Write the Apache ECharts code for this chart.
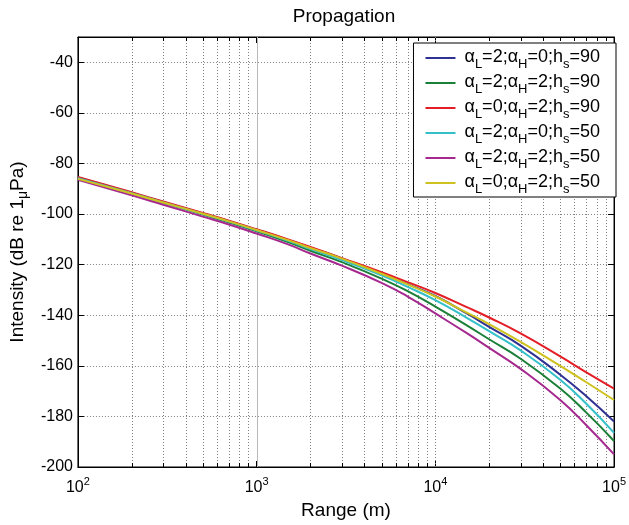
<!DOCTYPE html>
<html><head><meta charset="utf-8">
<script src="https://cdn.jsdelivr.net/npm/echarts@6/dist/echarts.min.js"></script>
<style>html,body{margin:0;padding:0;background:#fff}#c{width:629px;height:525px}</style>
</head><body><div id="c"></div>
<script>
// ---- data ----
const ranges = [100, 200, 300, 500, 700, 1000, 1500, 2000, 3000, 5000, 7000, 10000, 15000, 20000, 30000, 50000, 70000, 100000];
const alphaL = [2, 2, 0, 2, 2, 0];
const alphaH = [0, 2, 2, 0, 2, 2];
const hs = [90, 90, 90, 50, 50, 50];
const blue90 =    [-85.5, -91.6, -95.2, -99.8, -102.8, -106.2, -110.2, -113.3, -117.5, -123.5, -127.7, -132.4, -139.3, -144.6, -152.0, -163.5, -172.0, -182.0];
const green90 =   [-85.7, -91.8, -95.5, -100.2, -103.3, -106.8, -111.1, -114.5, -119.0, -125.5, -130.5, -136.6, -144.0, -149.5, -157.2, -169.0, -178.5, -189.7];
const red90 =     [-85.3, -91.4, -95.0, -99.6, -102.6, -106.0, -110.0, -113.0, -117.4, -123.0, -126.9, -131.2, -136.8, -140.9, -147.2, -156.3, -162.6, -169.0];
const cyan50 =    [-85.8, -91.8, -95.4, -100.0, -103.0, -106.5, -110.6, -113.8, -118.2, -124.2, -128.8, -134.0, -141.0, -146.3, -153.9, -165.5, -175.0, -186.5];
const magenta50 = [-86.5, -92.6, -96.3, -101.0, -104.1, -107.7, -112.0, -115.6, -120.4, -127.2, -132.6, -139.3, -147.1, -152.9, -161.2, -173.5, -183.5, -195.0];
const yellow50 =  [-86.1, -91.9, -95.4, -99.9, -102.9, -106.3, -110.3, -113.4, -117.6, -123.6, -127.8, -132.6, -139.0, -143.5, -150.5, -160.0, -166.5, -173.5];
const seriesValues = [blue90, green90, red90, cyan50, magenta50, yellow50];
const seriesColors = ['#2e3192', '#1a7f37', '#e41e26', '#33c0c8', '#a5288f', '#cfc21e'];
const yTicks = [-200, -180, -160, -140, -120, -100, -80, -60, -40];
const yMin = -200, yMax = -30;
const xMin = 100, xMax = 100000;
const xMinorGrid = [200, 300, 400, 500, 600, 700, 800, 900, 2000, 3000, 4000, 5000, 6000, 7000, 8000, 9000, 20000, 30000, 40000, 50000, 60000, 70000, 80000, 90000];
const xMajorGrid = [1000, 10000];

const FONT = '"Liberation Sans", Arial, Helvetica, sans-serif';
const names = alphaL.map((a, i) => 'αL=' + a + ';αH=' + alphaH[i] + ';hs=' + hs[i]);

const chart = echarts.init(document.getElementById('c'), null, {renderer: 'canvas'});

const lineSeries = seriesValues.map((vals, k) => ({
  name: names[k],
  type: 'line',
  xAxisIndex: 0, yAxisIndex: 0,
  data: ranges.map((r, i) => [r, vals[i]]),
  symbol: 'none',
  smooth: 0.5,
  lineStyle: {width: 2, color: seriesColors[k]},
  itemStyle: {color: seriesColors[k]},
  z: 5,
  animation: false
}));

const gridData = xMinorGrid.map(v => [v, 0]).concat(xMajorGrid.map(v => [v, 1]));

const gridSeries = {
  type: 'custom',
  xAxisIndex: 0, yAxisIndex: 0,
  data: gridData,
  z: 1,
  silent: true,
  animation: false,
  renderItem: function (params, api) {
    const v = api.value(0);
    const major = api.value(1) === 1;
    const t = api.coord([v, yMax]);
    const b = api.coord([v, yMin]);
    const x = Math.round(t[0]) + 0.5;
    const children = [{
      type: 'line',
      shape: {x1: x, y1: t[1], x2: x, y2: b[1]},
      style: major && v === 1000 ? {stroke: '#b8b8b8', lineWidth: 1} : {stroke: '#808080', lineWidth: 1, lineDash: [1, 2]}
    }];
    if (!major) {
      children.push({type: 'line', shape: {x1: x, y1: b[1], x2: x, y2: b[1] - 4}, style: {stroke: '#000', lineWidth: 1}});
      children.push({type: 'line', shape: {x1: x, y1: t[1], x2: x, y2: t[1] + 4}, style: {stroke: '#000', lineWidth: 1}});
    }
    return {type: 'group', children: children};
  }
};

const legendRich = {
  a: {fontSize: 18, lineHeight: 20, verticalAlign: 'top', fontFamily: FONT, color: '#000'},
  s: {fontSize: 13, lineHeight: 13, padding: [10, 0, 0, 0], verticalAlign: 'top', fontFamily: FONT, color: '#000'}
};

const option = {
  backgroundColor: '#fff',
  animation: false,
  title: {
    text: 'Propagation',
    left: 344, top: 7, textAlign: 'center', padding: 0,
    textStyle: {fontSize: 19, fontWeight: 'normal', color: '#000', fontFamily: FONT}
  },
  grid: {left: 73, right: 13, top: 37, bottom: 58, show: true, borderColor: '#000', borderWidth: 1, backgroundColor: '#fff'},
  legend: {
    data: names,
    orient: 'vertical',
    right: 13, top: 43,
    icon: 'rect',
    itemWidth: 30, itemHeight: 2, itemGap: 2,
    padding: [5, 16, 1, 12],
    backgroundColor: '#fff', borderColor: '#000', borderWidth: 1, borderRadius: 0,
    z: 10,
    formatter: function (name) {
      const i = names.indexOf(name);
      return '{a|α}{s|L}{a|=' + alphaL[i] + ';α}{s|H}{a|=' + alphaH[i] + ';h}{s|s}{a|=' + hs[i] + '}';
    },
    textStyle: {fontFamily: FONT, color: '#000', fontSize: 18, padding: [0, 0, 0, 4], rich: legendRich}
  },
  xAxis: [{
    type: 'log', logBase: 10, min: xMin, max: xMax, splitNumber: 3,
    position: 'bottom',
    axisLine: {show: true, lineStyle: {color: '#000', width: 1}},
    axisTick: {show: true, inside: true, length: 6, lineStyle: {color: '#000'}},
    splitLine: {show: false},
    axisLabel: {
      margin: 9,
      formatter: function (v) { return '{b|10}{p|' + Math.round(Math.log10(v)) + '}'; },
      rich: {
        b: {fontSize: 16, lineHeight: 20, padding: [4, 0, 0, 0], verticalAlign: 'top', fontFamily: FONT, color: '#000'},
        p: {fontSize: 11, lineHeight: 11, verticalAlign: 'top', fontFamily: FONT, color: '#000'}
      }
    },
    name: 'Range (m)', nameLocation: 'middle', nameGap: 31,
    nameTextStyle: {fontSize: 19, color: '#000', fontFamily: FONT}
  }, {
    type: 'log', logBase: 10, min: xMin, max: xMax, splitNumber: 3,
    position: 'top',
    axisLine: {show: true, lineStyle: {color: '#000', width: 1}},
    axisTick: {show: true, inside: true, length: 6, lineStyle: {color: '#000'}},
    axisLabel: {show: false},
    splitLine: {show: false}
  }],
  yAxis: [{
    type: 'value', min: yMin, max: yMax, interval: 20,
    position: 'left',
    axisLine: {show: true, lineStyle: {color: '#000', width: 1}},
    axisTick: {show: true, inside: true, length: 6, lineStyle: {color: '#000'}},
    axisLabel: {margin: 5, fontSize: 16, color: '#000', fontFamily: FONT, showMaxLabel: false,
      formatter: function (v) { return yTicks.indexOf(v) >= 0 ? String(v) : ''; }},
    splitLine: {show: true, lineStyle: {color: '#808080', width: 1, type: [1, 2]}},
    name: '{n|Intensity (dB re 1}{m|μ}{n|Pa)}', nameLocation: 'middle', nameGap: 33,
    nameTextStyle: {fontSize: 19, color: '#000', fontFamily: FONT,
      rich: {
        n: {fontSize: 19, lineHeight: 22, verticalAlign: 'top', fontFamily: FONT, color: '#000'},
        m: {fontSize: 14, lineHeight: 14, padding: [8, 0, 0, 0], verticalAlign: 'top', fontFamily: FONT, color: '#000'}
      }}
  }, {
    type: 'value', min: yMin, max: yMax, interval: 20,
    position: 'right',
    axisLine: {show: true, lineStyle: {color: '#000', width: 1}},
    axisTick: {show: true, inside: true, length: 6, lineStyle: {color: '#000'}},
    axisLabel: {show: false},
    splitLine: {show: false}
  }],
  series: [gridSeries].concat(lineSeries)
};
chart.setOption(option);
</script>
</body></html>
